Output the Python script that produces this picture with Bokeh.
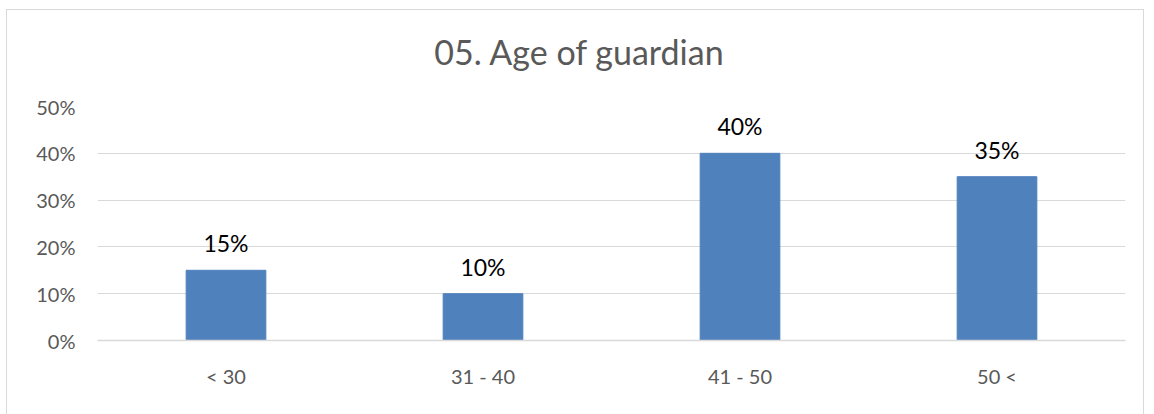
from bokeh.plotting import figure
from bokeh.models import ColumnDataSource, Range1d, NumeralTickFormatter, LabelSet, FixedTicker, Div
from bokeh.layouts import column
from bokeh.core.properties import value
from bokeh.embed import file_html
from bokeh.resources import INLINE

categories = ["< 30", "31 - 40", "41 - 50", "50 <"]
values = [0.15, 0.10, 0.40, 0.35]
labels = ["15%", "10%", "40%", "35%"]
y_ticks = [0, 0.1, 0.2, 0.3, 0.4, 0.5]
title_text = "05. Age of guardian"

FONT = "Lato"
GREY = "#595959"

src = ColumnDataSource(dict(cat=categories, val=values, lab=labels))

title_div = Div(text=title_text, width=1136, height=83, margin=(0, 0, 0, 0),
                styles={"font-family": FONT, "font-size": "34px", "color": GREY,
                        "text-align": "center", "line-height": "83px", "width": "1136px",
                        "padding-left": "8px", "box-sizing": "border-box",
                        "background": "white"})

p = figure(x_range=categories, y_range=Range1d(0, 0.5), width=1136, height=323,
           output_backend="svg", toolbar_location=None,
           min_border_left=90, min_border_right=18, min_border_top=13, min_border_bottom=76)

p.vbar(x="cat", top="val", width=0.31, source=src, fill_color="#4F81BD", line_color="#4F81BD")

p.add_layout(LabelSet(x="cat", y="val", text="lab", source=src, text_align="center",
                      text_baseline="bottom", y_offset=13, text_font=value(FONT),
                      text_font_size="23px", text_color="#000000"))

p.outline_line_color = None
p.background_fill_color = "white"
p.border_fill_color = "white"

p.yaxis.ticker = FixedTicker(ticks=y_ticks)
p.yaxis.formatter = NumeralTickFormatter(format="0%")
p.yaxis.axis_line_color = None
p.yaxis.major_tick_line_color = None
p.yaxis.minor_tick_line_color = None
p.yaxis.major_label_text_font = FONT
p.yaxis.major_label_text_font_size = "20px"
p.yaxis.major_label_text_color = GREY
p.yaxis.major_label_standoff = 16

p.xaxis.axis_line_color = "#D9D9D9"
p.xaxis.axis_line_width = 1.5
p.xaxis.major_tick_line_color = None
p.xaxis.minor_tick_line_color = None
p.xaxis.major_label_text_font = FONT
p.xaxis.major_label_text_font_size = "20px"
p.xaxis.major_label_text_color = GREY
p.xaxis.major_label_standoff = 17

p.xgrid.grid_line_color = None
p.ygrid.grid_line_color = "#D9D9D9"
p.ygrid.grid_line_width = 1

layout = column(title_div, p, spacing=0,
                styles={"border": "1.5px solid #D9D9D9", "margin-left": "6px", "margin-top": "9px",
                        "background": "white"})

open("out.html", "w").write(file_html(layout, INLINE))
